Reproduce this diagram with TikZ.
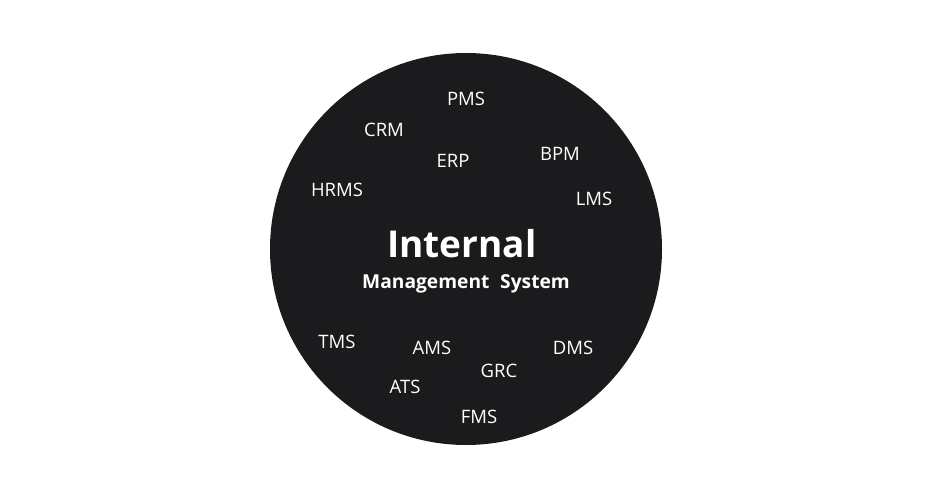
\documentclass[tikz,border=0pt]{standalone}
\usepackage{fontspec}
\setmainfont{Open Sans}
\usetikzlibrary{positioning}
\definecolor{disc}{RGB}{27,27,30}
\tikzset{
	sys/.style={text=white,font=\fontsize{18.5}{18.5}\selectfont,inner sep=0pt,outer sep=0pt},
	title/.style={text=white,font=\bfseries\fontsize{37}{37}\selectfont,inner sep=0pt,anchor=base},
	subtitle/.style={text=white,font=\bfseries\fontsize{19.2}{19.2}\selectfont,inner sep=0pt,anchor=base}
}
\begin{document}
\begin{tikzpicture}[x=1pt,y=-1pt]
		\useasboundingbox (0,0) rectangle (932,500);
		\fill[disc] (466,249) circle (196pt);
		
		% heading
		\node[title] (internal) at (462,257) {Internal};
		\node[subtitle] (mgmt) at (466,288) {Management\hspace{0.3em} System};
		
		% upper half
		\node[sys] (pms) at (466,99) {PMS};
		\node[sys] (crm) at (384,130) {CRM};
		\node[sys] (erp) at (453,161) {ERP};
		\node[sys] (bpm) at (560,154) {BPM};
		\node[sys] (hrms) at (337,190) {HRMS};
		\node[sys] (lms) at (594,199) {LMS};
		
		% lower half
		\node[sys] (tms) at (337,342) {TMS};
		\node[sys] (ams) at (432,348) {AMS};
		\node[sys] (dms) at (573,348) {DMS};
		\node[sys] (grc) at (499,371) {GRC};
		\node[sys] (ats) at (405,387) {ATS};
		\node[sys] (fms) at (479,417) {FMS};
	\end{tikzpicture}
\end{document}
